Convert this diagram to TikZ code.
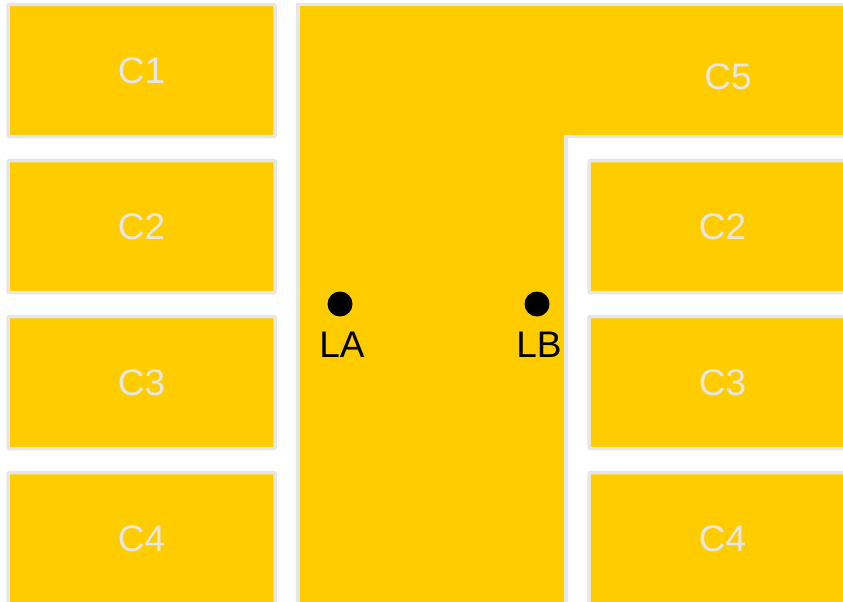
\documentclass[tikz,border=0pt]{standalone}
\usepackage{fontspec}
\setmainfont{Liberation Sans}
\definecolor{gold}{HTML}{FFCC00}
\definecolor{edge}{HTML}{E6E6E6}
\begin{document}
\begin{tikzpicture}[x=1pt,y=-1pt,
  box/.style={draw=edge,fill=gold,line width=3.5pt,rounded corners=1pt,minimum width=267pt,minimum height=132pt,
    text=edge,font=\fontsize{37}{37}\selectfont,inner sep=0pt},
  dot/.style={circle,fill=black,minimum size=25pt,inner sep=0pt},
  lbl/.style={text=black,font=\fontsize{37}{37}\selectfont,inner sep=0pt}]
\useasboundingbox (0,0) rectangle (843,602);
\clip (0,0) rectangle (843,602);
\fill[white] (0,0) rectangle (843,602);
% T-shaped area
\draw[draw=edge,fill=gold,line width=3.5pt] (298,4.5) -- (870,4.5) -- (870,136.5) -- (566,136.5) -- (566,640) -- (298,640) -- cycle;
\node[lbl,text=edge] (c5) at (728,77) {C5};
% left column
\node[box] (c1) at (141.5,70.5) {C1};
\node[box] (c2l) at (141.5,226.5) {C2};
\node[box] (c3l) at (141.5,382.5) {C3};
\node[box] (c4l) at (141.5,538.5) {C4};
% right column
\node[box] (c2r) at (722.5,226.5) {C2};
\node[box] (c3r) at (722.5,382.5) {C3};
\node[box] (c4r) at (722.5,538.5) {C4};
% points
\node[dot] (la) at (340,304) {};
\node[dot] (lb) at (537,304) {};
\node[lbl] (lal) at (342,345) {LA};
\node[lbl] (lbl) at (539,345) {LB};
\end{tikzpicture}
\end{document}
